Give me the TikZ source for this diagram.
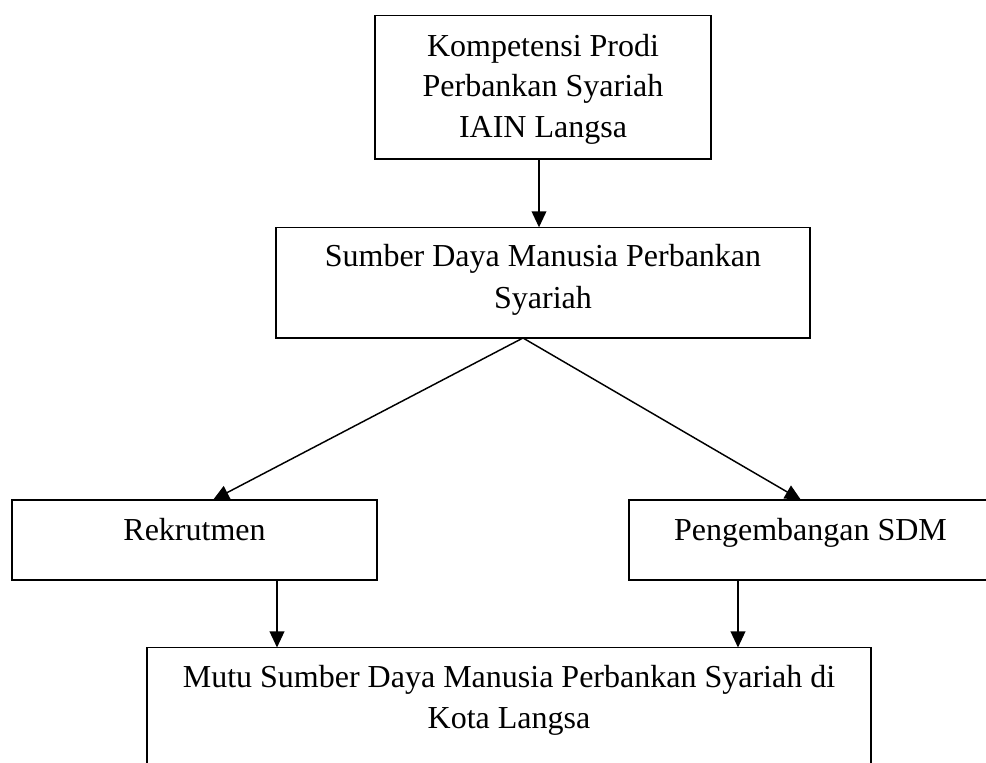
\documentclass[tikz,border=0pt]{standalone}
\usepackage{fontspec}
\setmainfont{Liberation Serif}
\usetikzlibrary{arrows.meta}
\begin{document}
\begin{tikzpicture}[x=0.75pt,y=-0.75pt,
  box/.style={draw,line width=1.1pt,inner sep=0pt,outer sep=0pt,rectangle},
  lbl/.style={anchor=base,inner sep=0pt,font=\fontsize{24pt}{30pt}\selectfont},
  conn/.style={line width=1.1pt},
  arr/.style={conn,-{Triangle[length=12pt,width=11pt]}}]
\useasboundingbox (0,0) rectangle (986,763);
\fill[white] (0,0) rectangle (986,763);
\clip (0,0) rectangle (986,763);
% boxes
\node[box,minimum width=252pt,minimum height=107.8pt] (top) at (543,87.15) {};
\node[box,minimum width=400.5pt,minimum height=83pt] (sdm) at (543,282.65) {};
\node[box,minimum width=273.75pt,minimum height=60pt] (rek) at (194.5,540) {};
\node[box,minimum width=272.25pt,minimum height=60pt] (peng) at (810.5,540) {};
\node[box,minimum width=543pt,minimum height=114.4pt] (mutu) at (509,723.75) {};
% texts
\node[lbl] (t1a) at (543,56.5) {Kompetensi Prodi};
\node[lbl] (t1b) at (543,97) {Perbankan Syariah};
\node[lbl] (t1c) at (543,137.5) {IAIN Langsa};
\node[lbl] (t2a) at (543,267) {Sumber Daya Manusia Perbankan};
\node[lbl] (t2b) at (543,308.5) {Syariah};
\node[lbl] (t3) at (194.5,540) {Rekrutmen};
\node[lbl] (t4) at (810.5,540) {Pengembangan SDM};
\node[lbl] (t5a) at (509,687) {Mutu Sumber Daya Manusia Perbankan Syariah di};
\node[lbl] (t5b) at (509,728) {Kota Langsa};
% connector x positions
\coordinate (a1) at (539,0);
\coordinate (apex) at (523,0);
\coordinate (a2) at (213,0);
\coordinate (a3) at (801,0);
\coordinate (a4) at (277,0);
\coordinate (a5) at (738,0);
% connectors
\draw[arr] (top.south -| a1) -- (sdm.north -| a1);
\draw[arr] (sdm.south -| apex) -- (rek.north -| a2);
\draw[arr] (sdm.south -| apex) -- (peng.north -| a3);
\draw[arr] (rek.south -| a4) -- (mutu.north -| a4);
\draw[arr] (peng.south -| a5) -- (mutu.north -| a5);
\end{tikzpicture}
\end{document}
